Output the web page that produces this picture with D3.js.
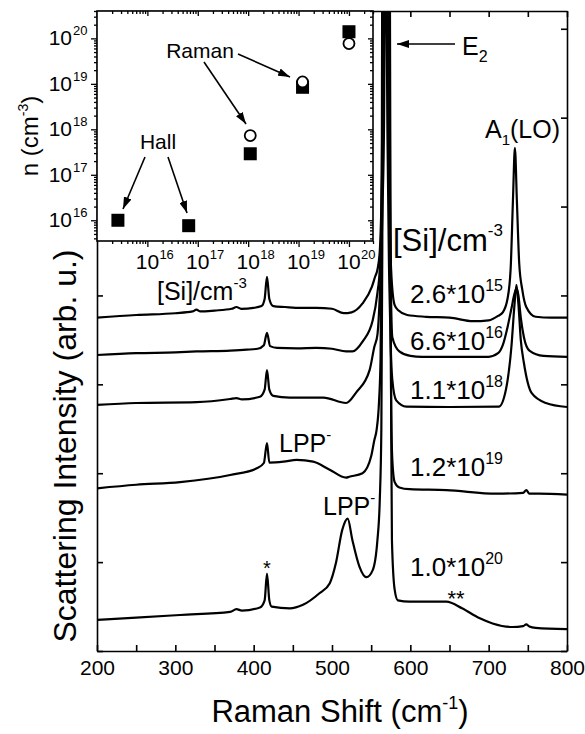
<!DOCTYPE html>
<html>
<head>
<meta charset="utf-8">
<script src="https://cdn.jsdelivr.net/npm/d3@7"></script>
<style>
body { margin: 0; background: #fff; }
text { font-family: Arial, "Liberation Sans", sans-serif; fill: #000; }
</style>
</head>
<body>
<div id="chart"></div>
<script>
// Raman spectra, [shift cm-1, intensity arb. u.] (E2 runs off the top)
var specA = [[200,37.5],[250,37.8],[300,38.0],[322,38.2],[327,38.4],[332,38.2],[350,38.3],[372,38.5],[378,38.7],[384,38.5],[400,38.6],[410,38.8],[414,39.6],[417,42.1],[420,39.6],[425,38.8],[440,38.7],[460,38.6],[480,38.6],[500,38.5],[515,38.0],[525,38.1],[539,39.1],[551,41.0],[555,42.1],[558,42.9],[561,45],[563,50],[565,60],[566,72],[567,95],[570,95],[571,72],[572.5,55],[574,47],[576,42],[580,38.9],[585,38.3],[596,37.8],[620,37.6],[650,37.5],[680,37.1],[700,37.2],[712,37.7],[718,38.1],[724,39.6],[728,42.9],[731,50.7],[733.5,56.6],[736,50.7],[739,43.6],[743,40.6],[748,38.7],[760,37.6],[780,37.5],[800,37.5]];
var specB = [[200,33.3],[250,33.5],[300,33.6],[327,33.7],[370,33.8],[391,33.9],[405,34.0],[413,34.4],[417,35.8],[421,34.3],[430,34.1],[455,34.05],[480,34.1],[500,34.0],[518,33.7],[526,33.7],[539,34.8],[552,37.2],[558,40.3],[561,43],[563,48],[564,58],[564.5,72],[565.5,95],[571.5,95],[572.5,72],[573.5,55],[575,42],[577,35.3],[586,33.7],[600,33.2],[615,33.1],[650,33.1],[700,33.1],[712,33.5],[718,34.4],[724,36.4],[729,38.5],[733,40.2],[735.5,40.8],[738,40.0],[741,37.5],[745,35.3],[752,33.8],[770,33.2],[800,33.1]];
var specC = [[200,27.7],[250,27.9],[327,28.0],[370,28.35],[378,28.45],[385,28.3],[408,28.6],[414,29.4],[417,31.6],[420,29.4],[425,28.7],[446,28.5],[489,28.5],[518,27.9],[531,29.1],[548,31.6],[554,34.2],[558,35.6],[561,40],[564.5,50],[566.5,60],[567.3,72],[568,95],[569,95],[569.8,72],[570.8,58],[573,42],[575,34],[577,30.5],[582,28.2],[595,27.5],[650,27.45],[713,27.5],[722,29.4],[729,34.2],[733,39],[735.5,41.2],[738,39],[741,35],[745,32.4],[755,29.0],[773,27.9],[800,27.45]];
var specD = [[200,18.3],[250,18.7],[306,19.0],[370,19.8],[404,20.55],[413,21.15],[417,23.4],[420,21.2],[438,21.3],[455,21.5],[476,21.3],[497,20.4],[518,19.5],[522,19.6],[539,20.0],[550,21.9],[554,23.7],[557,24.9],[560,28],[562,33],[563.5,50],[564,72],[565,95],[572.5,95],[573.5,72],[574.3,45],[575.5,28],[577,21.5],[580,19.0],[586,18.4],[599,18.2],[646,18.1],[710,17.7],[744,17.8],[748,18.1],[752,17.7],[764,17.7],[800,17.6]];
var specE = [[200,3.5],[250,3.75],[306,4.05],[370,4.4],[378,4.7],[385,4.55],[408,4.9],[414,5.7],[417,8.7],[420,5.7],[423,5.0],[446,4.8],[463,5.2],[484,6.5],[497,7.6],[505,9.9],[513,13.6],[520,14.9],[526,12.5],[535,9.5],[544,8.3],[552,9.1],[558,12.5],[561,17],[563,25],[564.2,45],[565,72],[566.5,100],[572.5,100],[574,72],[574.8,45],[575.6,25],[576.5,12.5],[580,6.9],[584,5.7],[599,5.55],[646,5.55],[666,4.8],[688,3.7],[705,3.1],[730,2.7],[744,2.8],[748,3.0],[752,2.75],[760,2.6],[800,2.45]];

var spectra = [specA, specB, specC, specD, specE];
var concBase = ["2.6*10", "6.6*10", "1.1*10", "1.2*10", "1.0*10"];
var concExp = ["15", "16", "18", "19", "20"];
var concLabelY = [39.2, 33.9, 28.3, 19.7, 8.4];   // baseline, in intensity units

var xTicks = [200, 250, 300, 350, 400, 450, 500, 550, 600, 650, 700, 750, 800];
var yTicks = [0, 10, 20, 30, 40, 50, 60, 70];

// inset: n vs [Si]
var siConc = [2.6e15, 6.6e16, 1.1e18, 1.2e19, 1.0e20];
var hallN = [1.0e16, 7.6e15, 2.9e17, 8.4e18, 1.4e20];
var ramanSi = [1.1e18, 1.2e19, 1.0e20];
var ramanN = [7.3e17, 1.1e19, 7.7e19];
var insetXDecades = [1e16, 1e17, 1e18, 1e19, 1e20];
var insetYDecades = [1e16, 1e17, 1e18, 1e19, 1e20];

var width = 585, height = 734;
var pL = 97, pR = 567, pT = 11, pB = 651;

var svg = d3.select("#chart").append("svg")
    .attr("width", width)
    .attr("height", height);

var x = d3.scaleLinear().domain([200, 800]).range([pL, pR]);
var y = d3.scaleLinear().domain([0, 72]).range([pB, pT]);

var defs = svg.append("defs");
defs.append("clipPath").attr("id", "plotclip")
    .append("rect")
    .attr("x", pL).attr("y", pT)
    .attr("width", pR - pL).attr("height", pB - pT);

var line = d3.line()
    .x(function(d) { return x(d[0]); })
    .y(function(d) { return y(d[1]); })
    .curve(d3.curveMonotoneX);

svg.append("g").attr("clip-path", "url(#plotclip)")
    .selectAll("path")
    .data(spectra)
    .enter().append("path")
    .attr("d", line)
    .attr("fill", "none")
    .attr("stroke", "#000")
    .attr("stroke-width", 2.2)
    .attr("stroke-linejoin", "round");

// axes, ticks inside
function styleAxis(g) {
    g.selectAll("path, line").attr("stroke", "#000").attr("stroke-width", 1.6);
    g.selectAll("text").attr("font-size", 21).attr("font-family", "Arial, 'Liberation Sans', sans-serif");
}

svg.append("g").attr("transform", "translate(0," + pB + ")")
    .call(d3.axisBottom(x).tickValues(xTicks).tickSize(-6).tickSizeOuter(0).tickPadding(9)
        .tickFormat(function(d) { return d % 100 ? "" : d; }))
    .call(styleAxis);
svg.append("g").attr("transform", "translate(0," + pT + ")")
    .call(d3.axisTop(x).tickValues(xTicks).tickSize(-6).tickSizeOuter(0).tickFormat(""))
    .call(styleAxis);
svg.append("g").attr("transform", "translate(" + pL + ",0)")
    .call(d3.axisLeft(y).tickValues(yTicks).tickSize(-6).tickSizeOuter(0).tickFormat(""))
    .call(styleAxis);
svg.append("g").attr("transform", "translate(" + pR + ",0)")
    .call(d3.axisRight(y).tickValues(yTicks).tickSize(-6).tickSizeOuter(0).tickFormat(""))
    .call(styleAxis);

// axis titles
svg.append("text")
    .attr("transform", "translate(76,446) rotate(-90)")
    .attr("text-anchor", "middle")
    .attr("font-size", 32)
    .text("Scattering Intensity (arb. u.)");

var xt = svg.append("text")
    .attr("x", 340).attr("y", 722)
    .attr("text-anchor", "middle")
    .attr("font-size", 31);
xt.append("tspan").text("Raman Shift (cm");
xt.append("tspan").attr("font-size", 18).attr("dy", -13).text("-1");
xt.append("tspan").attr("font-size", 31).attr("dy", 13).text(")");

// concentration labels
concBase.forEach(function(b, i) {
    var t = svg.append("text")
        .attr("x", 410).attr("y", y(concLabelY[i]))
        .attr("font-size", 26);
    t.append("tspan").text(b);
    t.append("tspan").attr("font-size", 16).attr("dy", -12).text(concExp[i]);
});

var si = svg.append("text").attr("x", 393).attr("y", 251).attr("font-size", 31);
si.append("tspan").text("[Si]/cm");
si.append("tspan").attr("font-size", 17).attr("dy", -15).text("-3");

// peak annotations
var e2 = svg.append("text").attr("x", 462).attr("y", 55).attr("font-size", 25);
e2.append("tspan").text("E");
e2.append("tspan").attr("font-size", 16).attr("dy", 7).text("2");

var a1 = svg.append("text").attr("x", 485).attr("y", 138).attr("font-size", 25);
a1.append("tspan").text("A");
a1.append("tspan").attr("font-size", 15).attr("dy", 7).text("1");
a1.append("tspan").attr("font-size", 25).attr("dy", -7).text("(LO)");

function lpp(px, py) {
    var t = svg.append("text").attr("x", px).attr("y", py).attr("font-size", 25);
    t.append("tspan").text("LPP");
    t.append("tspan").attr("font-size", 15).attr("dy", -12).text("-");
}
lpp(279, 452);
lpp(323, 515);

svg.append("text").attr("x", 267).attr("y", 575).attr("text-anchor", "middle")
    .attr("font-size", 20).text("*");
svg.append("text").attr("x", 456).attr("y", 606).attr("text-anchor", "middle")
    .attr("font-size", 22).text("**");

// arrow marker
defs.append("marker")
    .attr("id", "arrow")
    .attr("viewBox", "0 0 12 8")
    .attr("refX", 12).attr("refY", 4)
    .attr("markerWidth", 12).attr("markerHeight", 8)
    .attr("markerUnits", "userSpaceOnUse")
    .attr("orient", "auto")
    .append("path").attr("d", "M0,0 L12,4 L0,8 Z").attr("fill", "#000");

function arrow(x1, y1, x2, y2) {
    svg.append("line")
        .attr("x1", x1).attr("y1", y1).attr("x2", x2).attr("y2", y2)
        .attr("stroke", "#000").attr("stroke-width", 1.6)
        .attr("marker-end", "url(#arrow)");
}
arrow(455, 44, 397, 44);

// ---- inset ----
var ix0 = pL, ix1 = 373, iy0 = pT, iy1 = 241;
var xi = d3.scaleLog().domain([1e15, 3e20]).range([ix0, ix1]);
var yi = d3.scaleLog().domain([3.5e15, 4e20]).range([iy1, iy0]);

var inset = svg.append("g");
inset.append("rect")
    .attr("x", ix0).attr("y", iy0)
    .attr("width", ix1 - ix0).attr("height", iy1 - iy0)
    .attr("fill", "#fff").attr("stroke", "#000").attr("stroke-width", 1.6);

var xMinor = xi.ticks().filter(function(d) { return insetXDecades.indexOf(d) < 0 && d > 1e15; });
var yMinor = yi.ticks().filter(function(d) { return insetYDecades.indexOf(d) < 0; });

function insetAxis(axis, tx, ty) {
    inset.append("g").attr("transform", "translate(" + tx + "," + ty + ")")
        .call(axis)
        .call(function(g) {
            g.select(".domain").remove();
            g.selectAll("line").attr("stroke", "#000").attr("stroke-width", 1.3);
        });
}
insetAxis(d3.axisBottom(xi).tickValues(insetXDecades).tickSize(6).tickFormat(""), 0, iy1);
insetAxis(d3.axisBottom(xi).tickValues(xMinor).tickSize(3).tickFormat(""), 0, iy1);
insetAxis(d3.axisTop(xi).tickValues(insetXDecades).tickSize(-5).tickFormat(""), 0, iy0);
insetAxis(d3.axisTop(xi).tickValues(xMinor).tickSize(-3).tickFormat(""), 0, iy0);
insetAxis(d3.axisLeft(yi).tickValues(insetYDecades).tickSize(6).tickFormat(""), ix0, 0);
insetAxis(d3.axisLeft(yi).tickValues(yMinor).tickSize(3).tickFormat(""), ix0, 0);
insetAxis(d3.axisRight(yi).tickValues(insetYDecades).tickSize(-5).tickFormat(""), ix1, 0);
insetAxis(d3.axisRight(yi).tickValues(yMinor).tickSize(-3).tickFormat(""), ix1, 0);

insetXDecades.forEach(function(d) {
    var e = Math.round(Math.log10(d));
    inset.append("text").attr("x", xi(d)).attr("y", 269)
        .attr("text-anchor", "middle").attr("font-size", 21).text("10");
    inset.append("text").attr("x", xi(d) + 12).attr("y", 259)
        .attr("font-size", 13).text(e);
});
insetYDecades.forEach(function(d) {
    var e = Math.round(Math.log10(d));
    inset.append("text").attr("x", 72).attr("y", yi(d) + 7)
        .attr("text-anchor", "end").attr("font-size", 21).text("10");
    inset.append("text").attr("x", 73).attr("y", yi(d) - 3)
        .attr("font-size", 13).text(e);
});

var nt = svg.append("text")
    .attr("transform", "translate(38,136) rotate(-90)")
    .attr("text-anchor", "middle")
    .attr("font-size", 24);
nt.append("tspan").text("n (cm");
nt.append("tspan").attr("font-size", 14).attr("dy", -10).text("-3");
nt.append("tspan").attr("font-size", 24).attr("dy", 10).text(")");

var sit = svg.append("text").attr("x", 157).attr("y", 300).attr("font-size", 25);
sit.append("tspan").text("[Si]/cm");
sit.append("tspan").attr("font-size", 15).attr("dy", -12).text("-3");

inset.selectAll("rect.hall")
    .data(siConc)
    .enter().append("rect")
    .attr("class", "hall")
    .attr("x", function(d) { return xi(d) - 6.5; })
    .attr("y", function(d, i) { return yi(hallN[i]) - 6.5; })
    .attr("width", 13).attr("height", 13)
    .attr("fill", "#000");

inset.selectAll("circle.raman")
    .data(ramanSi)
    .enter().append("circle")
    .attr("class", "raman")
    .attr("cx", function(d) { return xi(d); })
    .attr("cy", function(d, i) { return yi(ramanN[i]); })
    .attr("r", 5.5)
    .attr("fill", "#fff").attr("stroke", "#000").attr("stroke-width", 1.8);

inset.append("text").attr("x", 158).attr("y", 149).attr("text-anchor", "middle")
    .attr("font-size", 21).text("Hall");
inset.append("text").attr("x", 200).attr("y", 58).attr("text-anchor", "middle")
    .attr("font-size", 21).text("Raman");

arrow(145, 157, 123, 209);
arrow(168, 157, 187, 213);
arrow(204, 62, 246, 124);
arrow(238, 54, 290, 77);
</script>
</body>
</html>
